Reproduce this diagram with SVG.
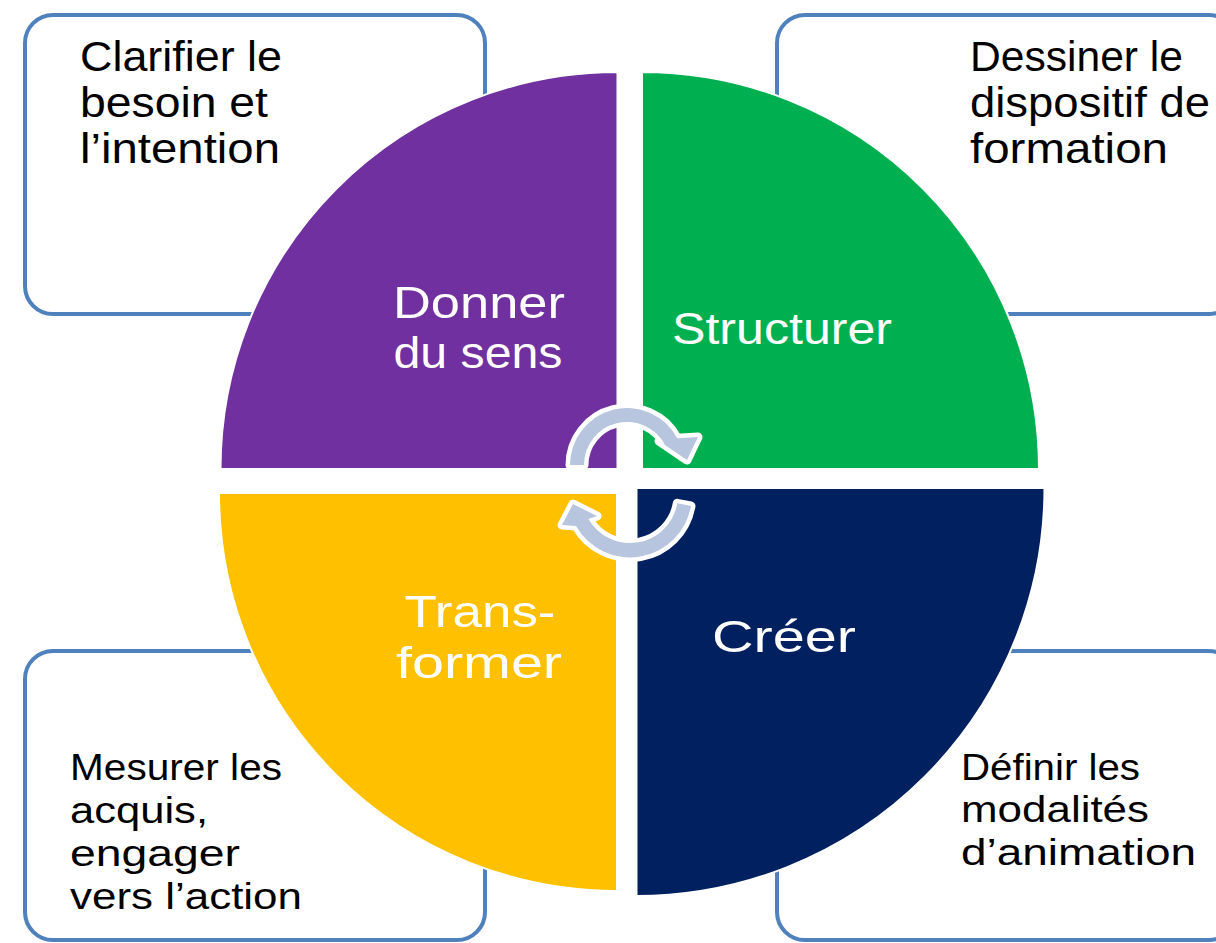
<svg xmlns="http://www.w3.org/2000/svg" width="1216" height="943" viewBox="0 0 1216 943">
  <style>
    .box { fill: #FFFFFF; stroke: #4F81BD; stroke-width: 4; }
    .q { stroke: #FFFFFF; stroke-width: 2; }
    .bt { font-family: "Liberation Sans", Arial, sans-serif; fill: #000000; }
    .big { font-size: 43px; }
    .small { font-size: 36px; }
    .ct { font-family: "Liberation Sans", Arial, sans-serif; font-size: 44px; fill: #FFFFFF; text-anchor: middle; }
    .arr { fill: #B7C5DF; stroke: #FFFFFF; stroke-width: 9; stroke-linejoin: round; paint-order: stroke; }
  </style>
  <rect width="1216" height="943" fill="#FFFFFF"/>

  <g id="box-clarifier">
    <rect class="box" x="25" y="15" width="460" height="299" rx="28" ry="28"/>
    <text class="bt big" x="80" y="71" textLength="202" lengthAdjust="spacingAndGlyphs">Clarifier le</text>
    <text class="bt big" x="80" y="117" textLength="188" lengthAdjust="spacingAndGlyphs">besoin et</text>
    <text class="bt big" x="80" y="163" textLength="200" lengthAdjust="spacingAndGlyphs">l’intention</text>
  </g>

  <g id="box-dessiner">
    <rect class="box" x="777" y="15" width="460" height="299" rx="28" ry="28"/>
    <text class="bt big" x="970" y="71" textLength="213" lengthAdjust="spacingAndGlyphs">Dessiner le</text>
    <text class="bt big" x="970" y="117" textLength="240" lengthAdjust="spacingAndGlyphs">dispositif de</text>
    <text class="bt big" x="970" y="163" textLength="198" lengthAdjust="spacingAndGlyphs">formation</text>
  </g>

  <g id="box-mesurer">
    <rect class="box" x="25" y="651" width="460" height="289" rx="28" ry="28"/>
    <text class="bt small" x="70" y="780" textLength="212" lengthAdjust="spacingAndGlyphs">Mesurer les</text>
    <text class="bt small" x="70" y="823" textLength="138" lengthAdjust="spacingAndGlyphs">acquis,</text>
    <text class="bt small" x="70" y="866" textLength="170" lengthAdjust="spacingAndGlyphs">engager</text>
    <text class="bt small" x="70" y="909" textLength="232" lengthAdjust="spacingAndGlyphs">vers l’action</text>
  </g>

  <g id="box-definir">
    <rect class="box" x="777" y="651" width="460" height="289" rx="28" ry="28"/>
    <text class="bt small" x="961" y="780" textLength="179" lengthAdjust="spacingAndGlyphs">Définir les</text>
    <text class="bt small" x="961" y="822" textLength="188" lengthAdjust="spacingAndGlyphs">modalités</text>
    <text class="bt small" x="961" y="865" textLength="235" lengthAdjust="spacingAndGlyphs">d’animation</text>
  </g>

  <g id="q-donner">
    <path class="q" fill="#7030A0" d="M 617.5 469 L 220.5 469 A 397 397 0 0 1 617.5 72 Z"/>
    <text class="ct" x="479" y="318" textLength="172" lengthAdjust="spacingAndGlyphs">Donner</text>
    <text class="ct" x="478" y="368" textLength="169" lengthAdjust="spacingAndGlyphs">du sens</text>
  </g>

  <g id="q-structurer">
    <path class="q" fill="#00B050" d="M 642 469 L 642 72 A 397 397 0 0 1 1039 469 Z"/>
    <text class="ct" x="782" y="344" textLength="220" lengthAdjust="spacingAndGlyphs">Structurer</text>
  </g>

  <g id="q-creer">
    <path class="q" fill="#002060" d="M 636.5 488 L 1044.5 488 A 408 408 0 0 1 636.5 896 Z"/>
    <text class="ct" x="784" y="652" textLength="144" lengthAdjust="spacingAndGlyphs">Créer</text>
  </g>

  <g id="q-transformer">
    <path class="q" fill="#FFC000" d="M 617 493 L 617 891 A 398 398 0 0 1 219 493 Z"/>
    <text class="ct" x="480" y="627" textLength="151" lengthAdjust="spacingAndGlyphs">Trans-</text>
    <text class="ct" x="479" y="678" textLength="166" lengthAdjust="spacingAndGlyphs">former</text>
  </g>

  <g id="connectors">
    <path class="arr" d="M 570 465 A 57 57 0 0 1 677.3 438.2 L 698 437 L 687 460 L 659 441 L 665 444.8 A 43 43 0 0 0 584 465 Z"/>
    <path class="arr" d="M 691 506 A 62 62 0 0 1 576 526 L 562 525 L 573 504 L 597 516 L 588.4 519 A 48 48 0 0 0 677.3 503.3 Z"/>
  </g>
</svg>
